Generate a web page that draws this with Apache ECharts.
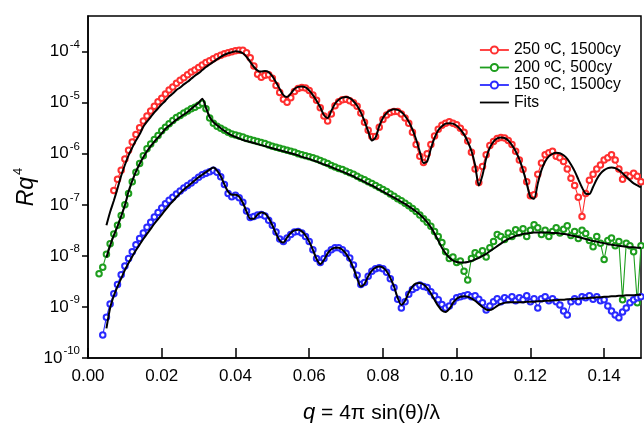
<!DOCTYPE html>
<html>
<head>
<meta charset="utf-8">
<script src="https://cdn.jsdelivr.net/npm/echarts@6/dist/echarts.min.js"></script>
<style>
  html, body { margin: 0; padding: 0; background: #fff; }
  #chart { width: 644px; height: 423px; }
</style>
</head>
<body>
<div id="chart"></div>
<script>
// Reflectivity Rq^4 versus q. Values are stored as log10(Rq^4),
// sampled on a regular q grid (step Q_STEP) starting at each qStart.
const Q_STEP = 0.001;

const legendNames = ['250 ºC, 1500cy', '200 ºC, 500cy', '150 ºC, 1500cy', 'Fits'];

// 250 ºC, 1500 cycles — measured
const qStartRed = 0.007;
const logRed = [
  -6.72, -6.50, -6.32,
  -6.10, -5.93, -5.77, -5.62, -5.49, -5.36, -5.26, -5.16, -5.07, -4.98,
  -4.91, -4.83, -4.75, -4.69, -4.62, -4.56, -4.51, -4.45, -4.40, -4.36,
  -4.31, -4.26, -4.21, -4.18, -4.14, -4.10, -4.07, -4.04, -4.02, -4.00,
  -3.98, -3.97, -3.97, -4.02, -4.12, -4.28, -4.44, -4.50, -4.46, -4.45,
  -4.52, -4.66, -4.80, -4.93, -4.99, -4.90, -4.78, -4.72, -4.70, -4.71,
  -4.76, -4.85, -4.95, -5.10, -5.26, -5.36, -5.22, -5.06, -4.98, -4.94,
  -4.93, -4.96, -5.00, -5.07, -5.20, -5.38, -5.54, -5.66, -5.66, -5.48,
  -5.33, -5.24, -5.19, -5.17, -5.17, -5.22, -5.30, -5.40, -5.58, -5.82,
  -6.05, -6.17, -6.00, -5.82, -5.65, -5.52, -5.44, -5.40, -5.37, -5.40,
  -5.43, -5.50, -5.58, -5.75, -5.97, -6.30, -6.56, -6.25, -6.02, -5.84,
  -5.76, -5.70, -5.68, -5.69, -5.74, -5.82, -5.95, -6.12, -6.31, -6.55,
  -6.82, -6.80, -6.40, -6.18, -6.02, -5.98, -5.95, -6.05, -6.08, -6.15,
  -6.30, -6.48, -6.62, -6.85, -7.23, -6.78, -6.52, -6.40, -6.30, -6.22,
  -6.12, -6.08, -6.02, -6.12, -6.30, -6.50, -6.42, -6.44, -6.38, -6.44,
  -6.55
];

// 250 ºC, 1500 cycles — fit
const qStartFitRed = 0.005;
const logFitRed = [
  -7.40, -7.14, -6.92, -6.68, -6.43,
  -6.22, -6.03, -5.88, -5.74, -5.62, -5.47, -5.37, -5.28, -5.19, -5.11,
  -5.03, -4.96, -4.88, -4.82, -4.75, -4.70, -4.64, -4.59, -4.53, -4.47,
  -4.42, -4.36, -4.30, -4.25, -4.20, -4.15, -4.10, -4.06, -4.03, -4.01,
  -3.99, -4.00, -4.03, -4.10, -4.20, -4.30, -4.37, -4.39, -4.38, -4.40,
  -4.48, -4.60, -4.73, -4.85, -4.89, -4.82, -4.73, -4.69, -4.68, -4.70,
  -4.76, -4.85, -4.96, -5.09, -5.24, -5.30, -5.16, -5.02, -4.94, -4.90,
  -4.89, -4.91, -4.97, -5.06, -5.19, -5.36, -5.56, -5.74, -5.68, -5.46,
  -5.30, -5.20, -5.15, -5.13, -5.14, -5.18, -5.26, -5.37, -5.52, -5.72,
  -5.96, -6.18, -6.15, -5.90, -5.69, -5.54, -5.46, -5.41, -5.40, -5.41,
  -5.45, -5.52, -5.62, -5.76, -5.94, -6.22, -6.62, -6.42, -6.09, -5.88,
  -5.76, -5.70, -5.68, -5.69, -5.74, -5.83, -5.95, -6.11, -6.32, -6.58,
  -6.85, -6.88, -6.58, -6.32, -6.15, -6.05, -6.00, -5.98, -5.99, -6.03,
  -6.10, -6.21, -6.34, -6.50, -6.66, -6.78, -6.79, -6.65, -6.50, -6.39,
  -6.32, -6.28, -6.27, -6.28, -6.32, -6.38, -6.45, -6.52, -6.58, -6.62,
  -6.66
];

// 200 ºC, 500 cycles — measured
const qStartGreen = 0.003;
const logGreen = [
  -8.35, -8.22, -7.97, -7.76, -7.57, -7.40, -7.21,
  -7.00, -6.78, -6.55, -6.36, -6.19, -6.04, -5.90, -5.81, -5.72, -5.64,
  -5.55, -5.48, -5.41, -5.35, -5.29, -5.25, -5.20, -5.16, -5.12, -5.09,
  -5.05, -5.01, -5.12, -5.30, -5.40, -5.46, -5.50, -5.54, -5.58, -5.61,
  -5.63, -5.65, -5.67, -5.70, -5.72, -5.74, -5.76, -5.78, -5.80, -5.83,
  -5.85, -5.87, -5.89, -5.91, -5.93, -5.95, -5.97, -6.00, -6.02, -6.04,
  -6.06, -6.08, -6.10, -6.13, -6.16, -6.19, -6.23, -6.26, -6.29, -6.31,
  -6.34, -6.37, -6.40, -6.44, -6.48, -6.51, -6.55, -6.58, -6.62, -6.66,
  -6.70, -6.74, -6.79, -6.83, -6.88, -6.92, -6.97, -7.02, -7.07, -7.13,
  -7.20, -7.27, -7.34, -7.42, -7.52, -7.62, -7.74, -7.92, -8.05, -8.02,
  -8.13, -8.10, -8.30, -8.47, -8.05, -7.94, -7.98, -7.90, -8.02, -7.84,
  -7.72, -7.58, -7.62, -7.68, -7.55, -7.62, -7.49, -7.55, -7.47, -7.62,
  -7.50, -7.39, -7.45, -7.58, -7.50, -7.62, -7.52, -7.45, -7.55, -7.48,
  -7.41, -7.60, -7.52, -7.66, -7.50, -7.56, -7.70, -7.82, -7.62, -7.75,
  -8.07, -7.70, -7.65, -7.80, -7.72, -8.86, -7.75, -7.80, -7.92, -8.92,
  -7.80
];

// 200 ºC, 500 cycles — fit
const qStartFitGreen = 0.005;
const logFitGreen = [
  -8.03, -7.80, -7.60, -7.42, -7.22,
  -7.01, -6.74, -6.53, -6.35, -6.20, -6.07, -5.95, -5.85, -5.76, -5.68,
  -5.60, -5.51, -5.45, -5.39, -5.33, -5.28, -5.23, -5.18, -5.12, -5.06,
  -5.00, -4.92, -5.10, -5.28, -5.38, -5.44, -5.50, -5.55, -5.60, -5.64,
  -5.67, -5.70, -5.73, -5.75, -5.77, -5.79, -5.81, -5.83, -5.85, -5.87,
  -5.89, -5.91, -5.93, -5.95, -5.97, -5.99, -6.01, -6.03, -6.06, -6.08,
  -6.10, -6.13, -6.15, -6.18, -6.21, -6.23, -6.26, -6.29, -6.32, -6.35,
  -6.38, -6.41, -6.44, -6.48, -6.51, -6.55, -6.59, -6.62, -6.66, -6.70,
  -6.74, -6.78, -6.82, -6.86, -6.90, -6.94, -6.98, -7.03, -7.08, -7.13,
  -7.19, -7.26, -7.34, -7.44, -7.56, -7.70, -7.84, -7.95, -8.03, -8.09,
  -8.12, -8.13, -8.13, -8.12, -8.10, -8.07, -8.04, -8.00, -7.96, -7.91,
  -7.86, -7.81, -7.76, -7.71, -7.67, -7.64, -7.61, -7.59, -7.57, -7.56,
  -7.55, -7.54, -7.54, -7.54, -7.54, -7.54, -7.55, -7.55, -7.56, -7.57,
  -7.58, -7.60, -7.61, -7.63, -7.65, -7.67, -7.69, -7.71, -7.72, -7.74,
  -7.75, -7.77, -7.78, -7.79, -7.80, -7.81, -7.82, -7.83, -7.83, -7.84,
  -7.84
];

// 150 ºC, 1500 cycles — measured
const qStartBlue = 0.004;
const logBlue = [
  -9.55, -9.20, -8.94, -8.74, -8.56, -8.37,
  -8.20, -8.05, -7.92, -7.78, -7.66, -7.55, -7.44, -7.34, -7.24, -7.15,
  -7.06, -6.98, -6.91, -6.85, -6.79, -6.73, -6.67, -6.62, -6.57, -6.52,
  -6.46, -6.41, -6.38, -6.35, -6.32, -6.36, -6.45, -6.60, -6.78, -6.84,
  -6.81, -6.86, -6.95, -7.12, -7.25, -7.23, -7.20, -7.19, -7.22, -7.30,
  -7.40, -7.53, -7.67, -7.72, -7.65, -7.58, -7.53, -7.52, -7.55, -7.62,
  -7.72, -7.88, -8.05, -8.13, -8.05, -7.95, -7.88, -7.84, -7.84, -7.88,
  -7.95, -8.04, -8.18, -8.38, -8.56, -8.52, -8.40, -8.30, -8.25, -8.23,
  -8.25, -8.32, -8.45, -8.62, -8.85, -9.02, -8.90, -8.75, -8.66, -8.62,
  -8.57, -8.60, -8.62, -8.70, -8.78, -8.86, -8.95, -9.02, -8.98, -8.90,
  -8.82, -8.80, -8.78, -8.76, -8.80, -8.78, -8.85, -8.92, -9.06, -8.98,
  -8.90, -8.84, -8.90, -8.82, -8.86, -8.80, -8.88, -8.82, -8.86, -8.78,
  -8.90, -8.84, -9.02, -8.84, -8.80, -8.88, -8.84, -8.90, -8.96, -9.08,
  -9.16, -8.90, -8.84, -8.90, -8.80, -8.82, -8.78, -8.85, -8.80, -8.88,
  -8.86, -8.98, -9.08, -9.16, -9.21, -9.10, -9.02, -8.92, -8.86, -8.82,
  -8.80
];

// 150 ºC, 1500 cycles — fit
const qStartFitBlue = 0.005;
const logFitBlue = [
  -9.42, -9.02, -8.78, -8.60, -8.44,
  -8.28, -8.14, -8.01, -7.89, -7.78, -7.67, -7.57, -7.47, -7.37, -7.28,
  -7.19, -7.10, -7.01, -6.93, -6.85, -6.77, -6.70, -6.64, -6.58, -6.52,
  -6.46, -6.41, -6.36, -6.31, -6.27, -6.33, -6.44, -6.60, -6.74, -6.80,
  -6.80, -6.84, -6.96, -7.13, -7.27, -7.27, -7.19, -7.15, -7.17, -7.26,
  -7.40, -7.56, -7.70, -7.74, -7.64, -7.55, -7.50, -7.49, -7.52, -7.60,
  -7.72, -7.88, -8.06, -8.16, -8.08, -7.95, -7.87, -7.84, -7.84, -7.88,
  -7.96, -8.08, -8.24, -8.44, -8.60, -8.55, -8.40, -8.29, -8.23, -8.21,
  -8.23, -8.30, -8.43, -8.60, -8.82, -8.96, -8.88, -8.72, -8.60, -8.54,
  -8.53, -8.56, -8.63, -8.73, -8.86, -8.98, -9.07, -9.10, -9.04, -8.92,
  -8.84, -8.80, -8.79, -8.80, -8.83, -8.88, -8.94, -9.00, -9.05, -9.06,
  -9.03, -8.98, -8.94, -8.92, -8.91, -8.91, -8.91, -8.91, -8.91, -8.90,
  -8.90, -8.90, -8.89, -8.89, -8.88, -8.88, -8.87, -8.87, -8.86, -8.86,
  -8.85, -8.85, -8.84, -8.84, -8.83, -8.83, -8.82, -8.82, -8.81, -8.81,
  -8.80, -8.80, -8.79, -8.79, -8.78, -8.78, -8.77, -8.77, -8.77, -8.76,
  -8.76
];

const xTickStep = 0.02;
const yTickValues = [1e-10, 1e-9, 1e-8, 1e-7, 1e-6, 1e-5, 1e-4];

const FONT = '"Liberation Sans", Arial, Helvetica, sans-serif';

// [q, Rq^4] pairs from a start q and log10 values
function toPairs(qStart, logs) {
  return logs.map((v, i) => [
    Math.round((qStart + i * Q_STEP) * 1e4) / 1e4,
    Math.pow(10, v)
  ]);
}

function measured(name, color, qStart, logs) {
  return {
    name: name,
    type: 'line',
    data: toPairs(qStart, logs),
    symbol: 'emptyCircle',
    symbolSize: 5.5,
    showSymbol: true,
    lineStyle: { color: color, width: 1.1 },
    itemStyle: { color: color, borderColor: color, borderWidth: 1 },
    z: 2
  };
}

function fit(qStart, logs) {
  return {
    name: 'Fits',
    type: 'line',
    data: toPairs(qStart, logs),
    symbol: 'none',
    smooth: 0.25,
    lineStyle: { color: '#000', width: 2 },
    itemStyle: { color: '#000' },
    z: 5
  };
}

const chart = echarts.init(document.getElementById('chart'), null, { renderer: 'canvas' });

chart.setOption({
  animation: false,
  backgroundColor: '#fff',
  grid: {
    left: 88, right: 3, top: 16, bottom: 65,
    containLabel: false,
    outerBoundsMode: 'none',
    show: true, borderColor: '#000', borderWidth: 1.5, backgroundColor: 'transparent'
  },
  legend: {
    data: [
      legendNames[0],
      legendNames[1],
      legendNames[2],
      { name: legendNames[3], itemStyle: { opacity: 0 } }
    ],
    orient: 'vertical',
    left: 474,
    top: 37,
    itemWidth: 29,
    itemHeight: 9,
    itemGap: 1.5,
    lineStyle: { width: 1.8 },
    textStyle: { fontFamily: FONT, fontSize: 15.7, color: '#000' }
  },
  xAxis: {
    type: 'value',
    min: 0,
    max: 0.15,
    interval: xTickStep,
    splitLine: { show: false },
    axisLine: { onZero: false, lineStyle: { color: '#000', width: 1.5 } },
    axisTick: { inside: true, length: 10, lineStyle: { color: '#000', width: 1.5 } },
    axisLabel: {
      showMaxLabel: false,
      margin: 10,
      color: '#000',
      fontFamily: FONT,
      fontSize: 17,
      formatter: v => v.toFixed(2)
    },
    name: '{i|q}{n| = 4π sin(θ)/λ}',
    nameLocation: 'middle',
    nameGap: 44,
    nameMoveOverlap: false,
    nameTextStyle: {
      color: '#000',
      padding: [0, 0, 0, 14],
      rich: {
        i: { fontFamily: FONT, fontSize: 22, fontStyle: 'italic', color: '#000' },
        n: { fontFamily: FONT, fontSize: 21, color: '#000' }
      }
    }
  },
  yAxis: {
    type: 'log',
    logBase: 10,
    min: 1e-10,
    max: 5.0e-4,
    splitLine: { show: false },
    axisLine: { lineStyle: { color: '#000', width: 1.5 } },
    axisTick: { inside: false, length: 6, customValues: yTickValues, lineStyle: { color: '#000', width: 1.5 } },
    axisLabel: {
      customValues: yTickValues,
      margin: 8,
      color: '#000',
      formatter: v => '{b|10}{s|' + Math.round(Math.log10(v)) + '}',
      rich: {
        b: { fontFamily: FONT, fontSize: 17, color: '#000' },
        s: { fontFamily: FONT, fontSize: 11.5, color: '#000', padding: [0, 0, 14, 1] }
      }
    },
    name: '{i|Rq}{s|4}',
    nameLocation: 'middle',
    nameRotate: 90,
    nameGap: 47,
    nameMoveOverlap: false,
    nameTextStyle: {
      rich: {
        i: { fontFamily: FONT, fontSize: 23, fontStyle: 'italic', color: '#000' },
        s: { fontFamily: FONT, fontSize: 13, color: '#000', padding: [0, 0, 16, 2] }
      }
    }
  },
  series: [
    measured(legendNames[0], '#ff3030', qStartRed, logRed),
    measured(legendNames[1], '#1e9e1e', qStartGreen, logGreen),
    measured(legendNames[2], '#2a2aff', qStartBlue, logBlue),
    fit(qStartFitRed, logFitRed),
    fit(qStartFitGreen, logFitGreen),
    fit(qStartFitBlue, logFitBlue)
  ]
});
</script>
</body>
</html>
